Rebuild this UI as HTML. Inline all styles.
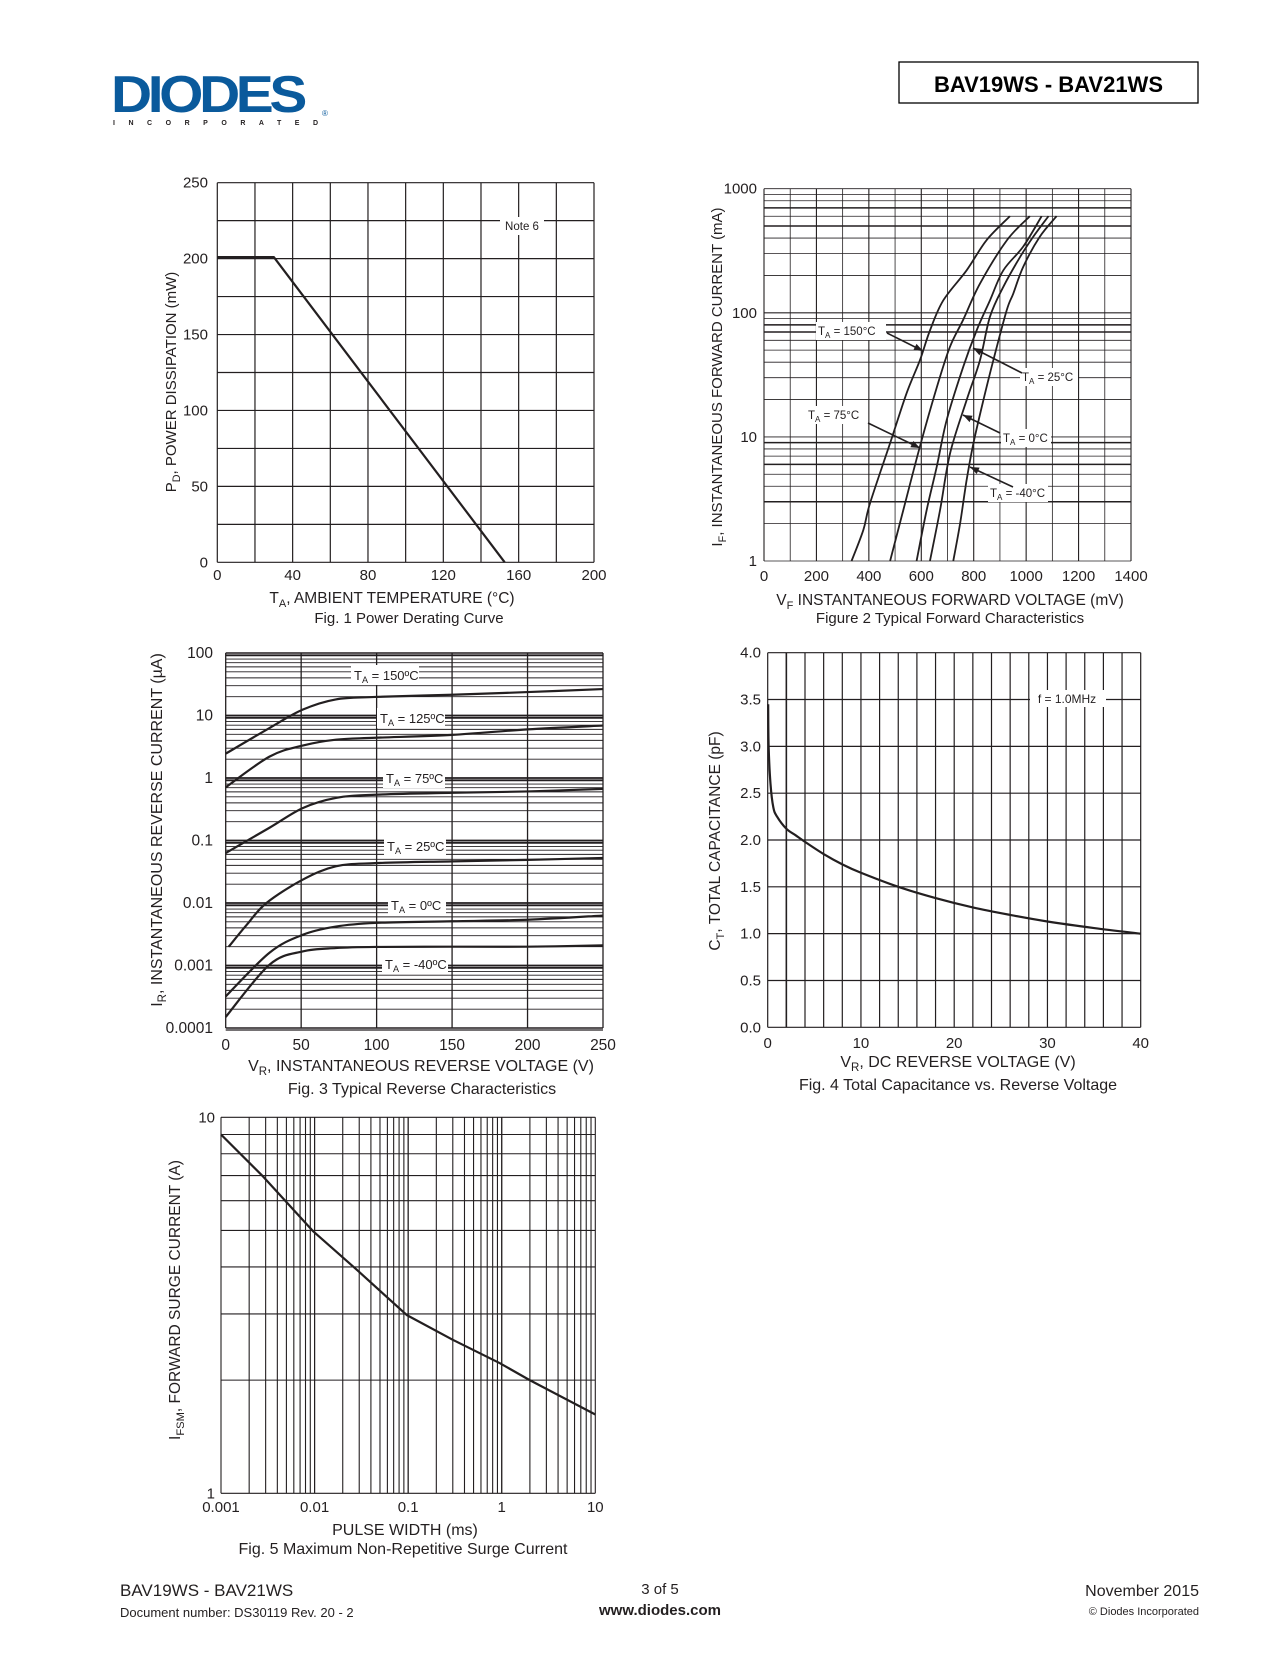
<!DOCTYPE html>
<html><head><meta charset="utf-8">
<style>
html,body{margin:0;padding:0;background:#fff;}
body{width:1275px;height:1650px;position:relative;overflow:hidden;font-family:"Liberation Sans",Arial,sans-serif;}
svg text{font-family:"Liberation Sans",Arial,sans-serif;fill:#231f20;}
</style></head>
<body>
<svg id="page" width="1275" height="1650" viewBox="0 0 1275 1650" xmlns="http://www.w3.org/2000/svg">
  <g>
    <text x="111" y="112" font-size="52" font-weight="bold" fill="#0a5a9c" style="fill:#0a5a9c;letter-spacing:-4px" textLength="192" lengthAdjust="spacingAndGlyphs">DIODES</text>
    <text x="113" y="125" font-size="7" font-weight="bold" textLength="205" lengthAdjust="spacing">INCORPORATED</text>
    <text x="322" y="116" font-size="8" style="fill:#0a5a9c">®</text>
  </g>
  <rect x="899" y="62" width="299" height="41" fill="none" stroke="#000" stroke-width="1.3"/>
  <text x="1048.5" y="92" font-size="22" font-weight="bold" text-anchor="middle" style="fill:#000">BAV19WS - BAV21WS</text>
  <g id="charts"></g>
  <g>
    <text x="120" y="1596" font-size="17">BAV19WS - BAV21WS</text>
    <text x="120" y="1617" font-size="13">Document number: DS30119 Rev. 20 - 2</text>
    <text x="660" y="1594" font-size="15" text-anchor="middle">3 of 5</text>
    <text x="660" y="1615" font-size="15" font-weight="bold" text-anchor="middle">www.diodes.com</text>
    <text x="1199" y="1596" font-size="16" text-anchor="end">November 2015</text>
    <text x="1199" y="1615" font-size="11" text-anchor="end">© Diodes Incorporated</text>
  </g>
</svg>
<script>
// ---------- Fig 1 data ----------
const f1Temp = [0, 30, 152.6];
const f1Power = [201, 201, 0];
const f1XTicks = [0, 40, 80, 120, 160, 200];
const f1YTicks = [0, 50, 100, 150, 200, 250];
// ---------- Fig 2 data ----------
const f2TickX = [0, 200, 400, 600, 800, 1000, 1200, 1400];
const f2TickY = [1, 10, 100, 1000];
const f2V150 = [334, 379, 404, 481, 544, 595, 633, 684, 773, 849, 938];
const f2I150 = [1, 1.78, 2.9, 8.9, 22.5, 41.6, 72, 126, 220, 385, 600];
const f2V75 = [481, 532, 595, 659, 709, 760, 824, 927, 1014];
const f2I75 = [1, 2.6, 8.4, 25, 53, 88, 172, 385, 600];
const f2V25 = [582, 621, 659, 697, 760, 811, 862, 913, 989, 1059];
const f2I25 = [1, 2.6, 5.75, 13.7, 36.7, 72, 126, 220, 342, 600];
const f2V0 = [633, 672, 710, 773, 824, 862, 913, 977, 1027, 1085];
const f2I0 = [1, 2.6, 7.4, 19.8, 41.6, 93, 162, 282, 410, 600];
const f2Vm40 = [722, 748, 773, 799, 837, 875, 926, 951, 989, 1052, 1116];
const f2Im40 = [1, 2, 4.5, 8.9, 19.8, 41.6, 105, 143, 235, 410, 600];
// ---------- Fig 3 data ----------
const f3TickX = [0, 50, 100, 150, 200, 250];
const f3TickY = [0.0001, 0.001, 0.01, 0.1, 1, 10, 100];
const f3TickYLabels = ["0.0001", "0.001", "0.01", "0.1", "1", "10", "100"];
const f3V = [0, 29, 51, 73, 99, 150, 200, 250];
const f3I150 = [2.45, 6.3, 12.4, 18.1, 19.8, 21.5, 23.7, 26.5];
const f3I125 = [0.71, 2.2, 3.3, 4.1, 4.4, 4.9, 6.0, 6.9];
const f3I75 = [0.063, 0.16, 0.33, 0.48, 0.54, 0.58, 0.61, 0.67];
const f3V25 = [2, 14, 27, 51, 73, 99, 150, 200, 250];
const f3I25 = [0.002, 0.0045, 0.01, 0.0236, 0.0386, 0.0434, 0.0464, 0.049, 0.0526];
const f3I0 = [0.00032, 0.0016, 0.0031, 0.0042, 0.0048, 0.0051, 0.0054, 0.0063];
const f3Im40 = [0.00015, 0.00103, 0.00168, 0.0019, 0.00198, 0.002, 0.002, 0.0021];
// ---------- Fig 4 data ----------
const f4TickX = [0, 10, 20, 30, 40];
const f4TickY = ["0.0", "0.5", "1.0", "1.5", "2.0", "2.5", "3.0", "3.5", "4.0"];
const f4V = [0.05, 0.1, 0.3, 0.6, 1, 2, 3, 4, 6, 8, 10, 14, 18, 22, 26, 30, 35, 40];
const f4C = [3.45, 3.0, 2.6, 2.35, 2.25, 2.12, 2.05, 1.98, 1.85, 1.74, 1.65, 1.5, 1.38, 1.28, 1.2, 1.13, 1.06, 1.0];
// ---------- Fig 5 data ----------
const f5TickX = [0.001, 0.01, 0.1, 1, 10];
const f5TickXLabels = ["0.001", "0.01", "0.1", "1", "10"];
const f5TickY = [1, 10];
const f5Pulse = [0.001, 0.00283, 0.0097, 0.0283, 0.0964, 0.30, 0.95, 1.99, 10];
const f5Surge = [9.0, 6.95, 4.97, 3.93, 2.98, 2.56, 2.22, 2.0, 1.62];

const NS = "http://www.w3.org/2000/svg";
const root = document.getElementById('charts');
function mk(parent, tag, attrs, txt) {
  const e = document.createElementNS(NS, tag);
  for (const k in attrs) e.setAttribute(k, attrs[k]);
  if (txt !== undefined) e.textContent = txt;
  parent.appendChild(e);
  return e;
}
function linScale(d0, d1, r0, r1) { return v => r0 + (v - d0) / (d1 - d0) * (r1 - r0); }
function logScale(d0, d1, r0, r1) { const a = Math.log10(d0), b = Math.log10(d1); return v => r0 + (Math.log10(v) - a) / (b - a) * (r1 - r0); }
function hLine(g, y, x0, x1, w) { return mk(g, 'line', {x1: x0, x2: x1, y1: y, y2: y, stroke: '#231f20', 'stroke-width': w}); }
function vLine(g, x, y0, y1, w) { return mk(g, 'line', {x1: x, x2: x, y1: y0, y2: y1, stroke: '#231f20', 'stroke-width': w}); }
function smoothPath(pts) {
  let d = 'M' + pts[0][0].toFixed(2) + ',' + pts[0][1].toFixed(2);
  for (let i = 0; i < pts.length - 1; i++) {
    const p0 = pts[Math.max(0, i - 1)], p1 = pts[i], p2 = pts[i + 1], p3 = pts[Math.min(pts.length - 1, i + 2)];
    const c1 = [p1[0] + (p2[0] - p0[0]) / 6, p1[1] + (p2[1] - p0[1]) / 6];
    const c2 = [p2[0] - (p3[0] - p1[0]) / 6, p2[1] - (p3[1] - p1[1]) / 6];
    d += ' C' + c1.map(v => v.toFixed(2)).join(',') + ' ' + c2.map(v => v.toFixed(2)).join(',') + ' ' + p2[0].toFixed(2) + ',' + p2[1].toFixed(2);
  }
  return d;
}
function curve(g, xs, ys, sx, sy, w, smooth) {
  const pts = xs.map((x, i) => [sx(x), sy(ys[i])]);
  const d = smooth ? smoothPath(pts) : 'M' + pts.map(p => p[0].toFixed(2) + ',' + p[1].toFixed(2)).join(' L');
  return mk(g, 'path', {d: d, fill: 'none', stroke: '#231f20', 'stroke-width': w, 'stroke-linejoin': 'round'});
}
function label(g, x, y, size, txt, anchor) { return mk(g, 'text', {x: x, y: y, 'font-size': size, 'text-anchor': anchor || 'middle'}, txt); }
function taLabel(g, x, y, size, temp, bg) {
  const t = mk(g, 'text', {x: x, y: y, 'font-size': size});
  t.appendChild(document.createTextNode('T'));
  const s = mk(t, 'tspan', {'font-size': size * 0.7, dy: 3}, 'A');
  mk(t, 'tspan', {dy: -3}, ' = ' + temp);
  return t;
}
function vTitle(g, x, y, size, main, sub, rest) {
  const t = mk(g, 'text', {x: 0, y: 0, 'font-size': size, 'text-anchor': 'middle', transform: 'translate(' + x + ',' + y + ') rotate(-90)'});
  t.appendChild(document.createTextNode(main));
  mk(t, 'tspan', {'font-size': size * 0.72, dy: 4}, sub);
  mk(t, 'tspan', {dy: -4}, rest);
  return t;
}
function arrow(g, x0, y0, x1, y1) {
  mk(g, 'line', {x1: x0, y1: y0, x2: x1, y2: y1, stroke: '#231f20', 'stroke-width': 1.6});
  const a = Math.atan2(y1 - y0, x1 - x0), L = 9, W = 3.5;
  const bx = x1 - L * Math.cos(a), by = y1 - L * Math.sin(a);
  mk(g, 'polygon', {points: x1 + ',' + y1 + ' ' + (bx - W * Math.sin(a)) + ',' + (by + W * Math.cos(a)) + ' ' + (bx + W * Math.sin(a)) + ',' + (by - W * Math.cos(a)), fill: '#231f20'});
}

// ================= FIG 1 =================
const g1 = mk(root, 'g', {});


const L1 = 217.3, R1 = 594, T1 = 182.7, B1 = 562.3;
const x1s = linScale(0, 200, L1, R1), y1s = linScale(0, 250, B1, T1);
const grid1 = mk(g1, 'g', {});


for (let v = 0; v <= 200; v += 20) vLine(grid1, x1s(v), T1, B1, 1.2);
for (let v = 0; v <= 250; v += 25) hLine(grid1, y1s(v), L1, R1, 1.2);
mk(g1, 'rect', {x: 500, y: 217, width: 44, height: 18, fill: '#fff'});
const n6 = label(g1, 522, 230, 11.5, 'Note 6');


const line1 = curve(g1, f1Temp, f1Power, x1s, y1s, 2.2, false);


f1YTicks.forEach(v => { const t = label(g1, 208, y1s(v) + 5, 15, String(v), 'end');   });
f1XTicks.forEach(v => { const t = label(g1, x1s(v), 580, 15, String(v));   });
const yt1 = vTitle(g1, 176, 382, 15, 'P', 'D', ', POWER DISSIPATION (mW)');


const xt1 = mk(g1, 'text', {x: 392, y: 603, 'font-size': 15.5, 'text-anchor': 'middle'});


xt1.appendChild(document.createTextNode('T')); mk(xt1, 'tspan', {'font-size': 11, dy: 4}, 'A'); mk(xt1, 'tspan', {dy: -4}, ', AMBIENT TEMPERATURE (°C)');
const c1 = label(g1, 409, 623, 15, 'Fig. 1  Power Derating Curve');



// ================= FIG 2 =================
const g2 = mk(root, 'g', {});


const L2 = 764, R2 = 1131, T2 = 188.7, B2 = 561;
const x2s = linScale(0, 1400, L2, R2), y2s = logScale(1, 1000, B2, T2);
const grid2 = mk(g2, 'g', {});


for (let v = 0; v <= 1400; v += 100) vLine(grid2, x2s(v), T2, B2, v % 200 === 0 ? 1.1 : 0.8);
for (let d = 1; d < 1000; d *= 10) for (let m = 1; m <= 10; m++) hLine(grid2, y2s(d * m), L2, R2, 0.8);
[700, 500, 80, 70, 9, 6, 3].forEach(v => hLine(grid2, y2s(v), L2, R2, 1.5));
const s2 = [[f2V150, f2I150, '150'], [f2V75, f2I75, '75'], [f2V25, f2I25, '25'], [f2V0, f2I0, '0'], [f2Vm40, f2Im40, 'minus40']];
s2.forEach(s => { const p = curve(g2, s[0], s[1], x2s, y2s, 1.8, true);   });
const ann2 = mk(g2, 'g', {});


[[818, 324, 70, '150°C', 887, 333, 923, 351], [1022, 370, 58, '25°C', 1022, 373, 973, 348], [808, 408, 62, '75°C', 868, 423, 920, 448], [1003, 431, 50, '0°C', 1000, 433, 963, 415], [990, 486, 60, '-40°C', 1013, 487, 970, 467]].forEach(a => {
  mk(ann2, 'rect', {x: a[0] - 2, y: a[1] - 2, width: a[2], height: 18, fill: '#fff'});
  taLabel(ann2, a[0], a[1] + 11, 11.5, a[3]);
  arrow(ann2, a[4], a[5], a[6], a[7]);
});
f2TickY.forEach(v => { const t = label(g2, 757, y2s(v) + 5, 15, String(v), 'end');   });
f2TickX.forEach(v => { const t = label(g2, x2s(v), 581, 15, String(v));   });
const yt2 = vTitle(g2, 722, 377, 15, 'I', 'F', ', INSTANTANEOUS FORWARD CURRENT (mA)');


const xt2 = mk(g2, 'text', {x: 950, y: 605, 'font-size': 15.5, 'text-anchor': 'middle'});


xt2.appendChild(document.createTextNode('V')); mk(xt2, 'tspan', {'font-size': 11, dy: 4}, 'F'); mk(xt2, 'tspan', {dy: -4}, ' INSTANTANEOUS FORWARD VOLTAGE (mV)');
const c2 = label(g2, 950, 623, 15, 'Figure 2 Typical Forward Characteristics');



// ================= FIG 3 =================
const g3 = mk(root, 'g', {});


const L3 = 225.7, R3 = 603, T3 = 653, B3 = 1028;
const x3s = linScale(0, 250, L3, R3), y3s = logScale(0.0001, 100, B3, T3);
const grid3 = mk(g3, 'g', {});


f3TickX.forEach(v => vLine(grid3, x3s(v), T3, B3, 1.3));
for (let d = 0.0001; d < 99; d *= 10) for (let m = 1; m <= 10; m++) hLine(grid3, y3s(d * m), L3, R3, m === 1 || m === 10 ? 1.4 : 0.9);
f3TickY.forEach(v => hLine(grid3, y3s(v * 0.93), L3, R3, 1.2));
const s3 = [[f3V, f3I150, '150'], [f3V, f3I125, '125'], [f3V, f3I75, '75'], [f3V25, f3I25, '25'], [f3V, f3I0, '0'], [f3V, f3Im40, 'minus40']];
s3.forEach(s => { const p = curve(g3, s[0], s[1], x3s, y3s, 2.2, true);   });
const ann3 = mk(g3, 'g', {});


[[354, 669, 68, '150ºC'], [380, 712, 68, '125ºC'], [386, 772, 62, '75ºC'], [387, 840, 62, '25ºC'], [391, 899, 58, '0ºC'], [385, 958, 66, '-40ºC']].forEach(a => {
  mk(ann3, 'rect', {x: a[0] - 3, y: a[1] - 4, width: a[2], height: 20, fill: '#fff'});
  taLabel(ann3, a[0], a[1] + 11, 13, a[3]);
});
f3TickY.forEach((v, i) => { const t = label(g3, 213, y3s(v) + 5, 15.5, f3TickYLabels[i], 'end');   });
f3TickX.forEach(v => { const t = label(g3, x3s(v), 1050, 15.5, String(v));   });
const yt3 = vTitle(g3, 162, 830, 16, 'I', 'R', ', INSTANTANEOUS REVERSE CURRENT (µA)');


const xt3 = mk(g3, 'text', {x: 421, y: 1071, 'font-size': 16, 'text-anchor': 'middle'});


xt3.appendChild(document.createTextNode('V')); mk(xt3, 'tspan', {'font-size': 11.5, dy: 4}, 'R'); mk(xt3, 'tspan', {dy: -4}, ', INSTANTANEOUS REVERSE VOLTAGE (V)');
const c3 = label(g3, 422, 1094, 16, 'Fig. 3  Typical Reverse Characteristics');



// ================= FIG 4 =================
const g4 = mk(root, 'g', {});


const L4 = 767.7, R4 = 1140.7, T4 = 652.7, B4 = 1027.3;
const x4s = linScale(0, 40, L4, R4), y4s = linScale(0, 4, B4, T4);
const grid4 = mk(g4, 'g', {});


for (let v = 0; v <= 40; v += 2) vLine(grid4, x4s(v), T4, B4, v === 2 ? 1.6 : 1.2);
for (let v = 0; v <= 4; v += 0.5) hLine(grid4, y4s(v), L4, R4, 1.2);
mk(g4, 'rect', {x: 1030, y: 690, width: 76, height: 17, fill: '#fff'});
const fm = label(g4, 1067, 703, 12, 'f = 1.0MHz');


const p4 = curve(g4, f4V, f4C, x4s, y4s, 2.2, true);


f4TickY.forEach(v => { const t = label(g4, 761, y4s(parseFloat(v)) + 5, 15, v, 'end');   });
f4TickX.forEach(v => { const t = label(g4, x4s(v), 1048, 15, String(v));   });
const yt4 = vTitle(g4, 720, 841, 15.5, 'C', 'T', ', TOTAL CAPACITANCE (pF)');


const xt4 = mk(g4, 'text', {x: 958, y: 1067, 'font-size': 16, 'text-anchor': 'middle'});


xt4.appendChild(document.createTextNode('V')); mk(xt4, 'tspan', {'font-size': 11.5, dy: 4}, 'R'); mk(xt4, 'tspan', {dy: -4}, ', DC REVERSE VOLTAGE (V)');
const c4 = label(g4, 958, 1090, 16, 'Fig. 4  Total Capacitance vs. Reverse Voltage');



// ================= FIG 5 =================
const g5 = mk(root, 'g', {});


const L5 = 221, R5 = 595.3, T5 = 1117.3, B5 = 1493.3;
const x5s = logScale(0.001, 10, L5, R5), y5s = logScale(1, 10, B5, T5);
const grid5 = mk(g5, 'g', {});


for (let d = 0.001; d < 9; d *= 10) for (let m = 1; m <= 10; m++) vLine(grid5, x5s(d * m), T5, B5, 1.1);
for (let m = 1; m <= 10; m++) hLine(grid5, y5s(m), L5, R5, 1.1);
const p5 = curve(g5, f5Pulse, f5Surge, x5s, y5s, 2.2, false);


f5TickY.forEach(v => { const t = label(g5, 215, y5s(v) + 5, 15, String(v), 'end');   });
f5TickX.forEach((v, i) => { const t = label(g5, x5s(v), 1512, 15, f5TickXLabels[i]);   });
const yt5 = vTitle(g5, 180, 1300, 15.5, 'I', 'FSM', ', FORWARD SURGE CURRENT (A)');


const xt5 = label(g5, 405, 1535, 16, 'PULSE WIDTH (ms)');


const c5 = label(g5, 403, 1554, 16, 'Fig. 5  Maximum Non-Repetitive Surge Current');


</script>
</body></html>
